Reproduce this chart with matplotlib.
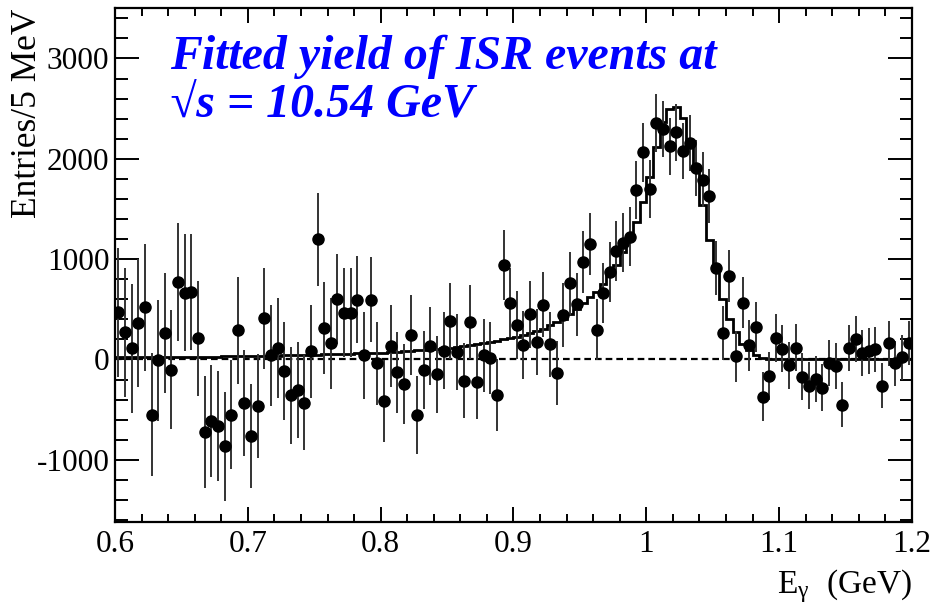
import numpy as np
import matplotlib.pyplot as plt
from matplotlib.ticker import MultipleLocator

plt.rcParams['font.family'] = ['Liberation Serif', 'DejaVu Serif']
plt.rcParams['mathtext.fontset'] = 'stix'
plt.rcParams['axes.unicode_minus'] = False

# 5 MeV bins between 0.6 and 1.2 GeV
e_lo, e_hi, n_bins = 0.6, 1.2, 120

yields = [470, 270, 110, 365, 520, -550, -10, 265, -100, 770,
          665, 670, 210, -725, -615, -665, -865, -550, 290, -435,
          -760, -463, 410, 40, 113, -113, -357, -303, -430, 80,
          1197, 317, 160, 600, 467, 467, 597, 40, 597, -40,
          -413, 133, -127, -243, 243, -553, -103, 133, -147, 87,
          383, 73, -210, 373, -227, 40, 17, -353, 940, 565,
          340, 147, 450, 173, 547, 150, -133, 440, 760, 550,
          973, 1153, 297, 663, 873, 1083, 1163, 1223, 1690, 2063,
          1700, 2357, 2297, 2123, 2263, 2073, 2157, 1907, 1790, 1630,
          913, 263, 830, 30, 567, 140, 323, -370, -167, 215,
          108, -60, 117, -170, -260, -193, -280, -33, -67, -450,
          117, 203, 63, 83, 100, -260, 163, -40, 23, 163]

errors = [645, 645, 640, 635, 630, 610, 605, 600, 595, 590,
          585, 580, 575, 560, 555, 550, 545, 540, 533, 530,
          520, 515, 505, 500, 495, 490, 485, 480, 475, 467,
          465, 460, 455, 447, 443, 440, 435, 430, 420, 415,
          410, 405, 402, 400, 400, 393, 390, 387, 385, 382,
          380, 377, 373, 370, 365, 362, 358, 355, 350, 345,
          340, 337, 333, 330, 327, 323, 320, 318, 315, 312,
          310, 310, 305, 303, 300, 298, 296, 294, 292, 290,
          288, 286, 284, 282, 280, 279, 278, 276, 274, 272,
          268, 265, 262, 258, 255, 250, 247, 243, 240, 238,
          236, 235, 234, 233, 232, 231, 230, 229, 228, 228,
          227, 227, 226, 226, 225, 225, 224, 224, 223, 223]

# fitted yield per bin
fit = [20, 20, 21, 21, 22, 22, 23, 23, 24, 25,
       25, 26, 27, 27, 28, 29, 30, 31, 32, 33,
       34, 35, 36, 38, 39, 40, 42, 43, 45, 47,
       48, 50, 52, 54, 56, 58, 60, 62, 64, 65,
       68, 72, 76, 80, 85, 90, 95, 100, 106, 112,
       119, 126, 134, 143, 153, 164, 176, 189, 203, 215,
       223, 243, 263, 283, 307, 340, 370, 406, 455, 505,
       562, 621, 671, 754, 837, 937, 1070, 1220, 1369, 1569,
       1818, 2117, 2370, 2500, 2520, 2410, 2170, 1910, 1535, 1186,
       914, 605, 406, 270, 155, 90, 40, 15, 5, 2,
       1, 0, 0, 0, 0, 0, 0, 0, 0, 0,
       0, 0, 0, 0, 0, 0, 0, 0, 0, 0]

edges = np.linspace(e_lo, e_hi, n_bins + 1)
centers = 0.5 * (edges[:-1] + edges[1:])

fig = plt.figure(figsize=(9.31, 6.06), dpi=100)
ax = fig.add_axes([0.1235, 0.1386, 0.8561, 0.8477])

ax.axhline(0, color='black', lw=1.6, ls=(0, (3, 1.8)), zorder=1)
ax.stairs(fit, edges, color='black', lw=2.0, zorder=2)
ax.errorbar(centers, yields, yerr=errors, fmt='o', color='black',
            ecolor='#333333', elinewidth=1.4, capsize=0, ms=8, zorder=3)

ax.set_xlim(e_lo, e_hi)
ax.set_ylim(-1620, 3500)

ax.xaxis.set_major_locator(MultipleLocator(0.1))
ax.xaxis.set_minor_locator(MultipleLocator(0.02))
ax.yaxis.set_major_locator(MultipleLocator(1000))
ax.yaxis.set_minor_locator(MultipleLocator(200))
ax.set_xticks([0.6, 0.7, 0.8, 0.9, 1.0, 1.1, 1.2])
ax.set_xticklabels(['0.6', '0.7', '0.8', '0.9', '1', '1.1', '1.2'])

ax.tick_params(axis='both', which='both', direction='in', top=True, right=True,
               labelsize=22.5, width=1.4, colors='black')
ax.tick_params(axis='y', which='major', length=17, pad=4)
ax.tick_params(axis='y', which='minor', length=9)
ax.tick_params(axis='x', which='major', length=11, pad=6)
ax.tick_params(axis='x', which='minor', length=6)
for s in ax.spines.values():
    s.set_linewidth(1.6)

fig.text(0.9796, 0.02, r'E$_{\mathregular{γ}}$  (GeV)', ha='right', va='baseline', fontsize=24)
fig.text(0.03, 0.9863, 'Entries/5 MeV', rotation=90, ha='center', va='top', fontsize=25.5)

fig.text(0.1826, 0.886, 'Fitted yield of ISR events at', color='#0000ff',
         fontsize=34.5, fontweight='bold', fontstyle='italic', va='baseline')
fig.text(0.1826, 0.806, '\u221as = 10.54 GeV', color='#0000ff',
         fontsize=34.5, fontweight='bold', fontstyle='italic', va='baseline')

fig.savefig('out.png', dpi=100)
